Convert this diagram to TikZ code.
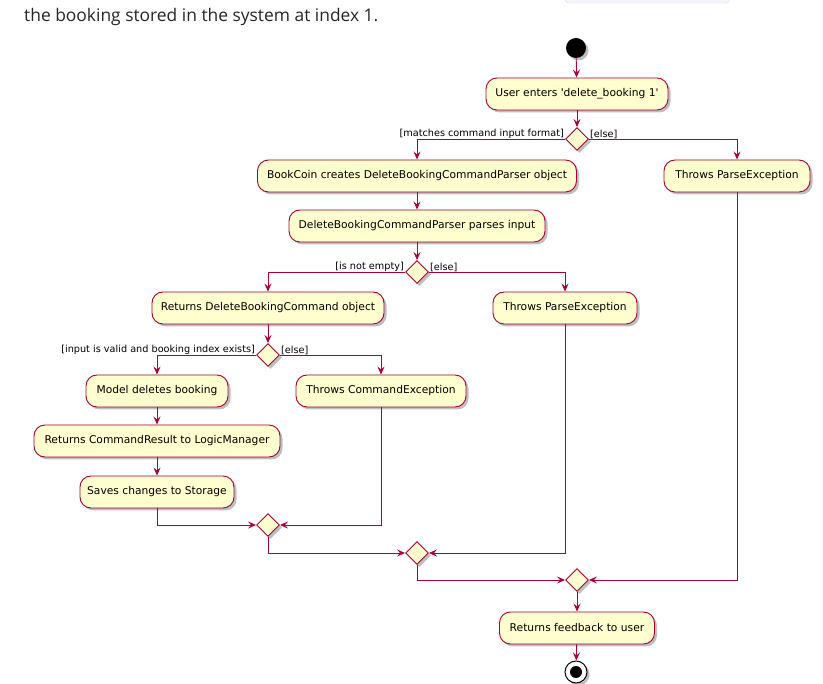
\documentclass[tikz,border=0pt]{standalone}
\usepackage{fontspec}
\setmainfont{DejaVu Sans}[Ligatures=TeXOff]
\newfontfamily\headfont{Open Sans}
\usetikzlibrary{shapes.geometric,arrows.meta,shadows}
\definecolor{umlfill}{HTML}{FEFECE}
\definecolor{umlline}{HTML}{A80036}
\begin{document}
\begin{tikzpicture}[x=1pt,y=-1pt,
  act/.style={draw=umlline, fill=umlfill, line width=0.9pt, rounded corners=11pt,
    minimum height=32pt, inner sep=0pt, font=\fontsize{10.7}{12}\selectfont,
    drop shadow={shadow xshift=2.5pt, shadow yshift=-2.5pt, opacity=0.25, fill=black}},
  dec/.style={diamond, draw=umlline, fill=umlfill, line width=0.9pt, inner sep=0pt,
    minimum width=23pt, minimum height=23pt,
    drop shadow={shadow xshift=2.5pt, shadow yshift=-2.5pt, opacity=0.25, fill=black}},
  flow/.style={draw=umlline, line width=0.9pt, -{Stealth[length=8pt,width=7pt,inset=3pt]}},
  guard/.style={font=\fontsize{9.7}{11}\selectfont, inner sep=1pt}
]
\useasboundingbox (0,0) rectangle (823,684);
\fill[white] (0,0) rectangle (823,684);
% partial box at top
\draw[draw=black!15, fill=blue!4, rounded corners=4pt] (565,-10) rectangle (730,3);
\node[anchor=west, font=\headfont\fontsize{17.4}{20}\selectfont, text=black!85, inner sep=0pt] (head) at (24,17) {the booking stored in the system at index 1.};

% start
\node[circle, fill=black, minimum size=20pt, inner sep=0pt,
  drop shadow={shadow xshift=2.5pt, shadow yshift=-2.5pt, opacity=0.25, fill=black}] (start) at (576,48) {};

\node[act, minimum width=182pt] (enter) at (577,94) {User enters 'delete\_booking 1'};
\node[dec] (d1) at (577,139) {};
\node[act, minimum width=319pt] (create) at (417,176) {BookCoin creates DeleteBookingCommandParser object};
\node[act, minimum width=146pt] (pe1) at (737,176) {Throws ParseException};
\node[act, minimum width=256pt] (parse) at (417,226) {DeleteBookingCommandParser parses input};
\node[dec] (d2) at (417,272) {};
\node[act, minimum width=232pt] (ret) at (268,308) {Returns DeleteBookingCommand object};
\node[act, minimum width=144pt] (pe2) at (565,308) {Throws ParseException};
\node[dec] (d3) at (268,355) {};
\node[act, minimum width=142pt] (model) at (157,391) {Model deletes booking};
\node[act, minimum width=170pt] (cmdex) at (381,391) {Throws CommandException};
\node[act, minimum width=246pt] (result) at (157,441) {Returns CommandResult to LogicManager};
\node[act, minimum width=154pt] (save) at (157,492) {Saves changes to Storage};
\node[dec] (m1) at (268,525) {};
\node[dec] (m2) at (417,553) {};
\node[dec] (m3) at (577,580) {};
\node[act, minimum width=155pt] (fb) at (577,628) {Returns feedback to user};

% end
\node[circle, draw=black, line width=1pt, fill=white, minimum size=22pt, inner sep=0pt,
  drop shadow={shadow xshift=2.5pt, shadow yshift=-2.5pt, opacity=0.25, fill=black}] (end) at (576,672) {};
\node[circle, fill=black, minimum size=12pt, inner sep=0pt] (endin) at (end.center) {};

% guards
\node[guard, anchor=south east] (g1l) at ([yshift=-1pt]d1.west) {[matches command input format]};
\node[guard, anchor=south west] (g1r) at ([yshift=-1pt]d1.east) {[else]};
\node[guard, anchor=south east] (g2l) at ([yshift=-1pt]d2.west) {[is not empty]};
\node[guard, anchor=south west] (g2r) at ([yshift=-1pt]d2.east) {[else]};
\node[guard, anchor=south east] (g3l) at ([yshift=-1pt]d3.west) {[input is valid and booking index exists]};
\node[guard, anchor=south west] (g3r) at ([yshift=-1pt]d3.east) {[else]};

% flows
\draw[flow] (start) -- (enter);
\draw[flow] (enter) -- (d1);
\draw[flow] (d1.west) -| (create.north);
\draw[flow] (d1.east) -| (pe1.north);
\draw[flow] (create) -- (parse);
\draw[flow] (parse) -- (d2);
\draw[flow] (d2.west) -| (ret.north);
\draw[flow] (d2.east) -| (pe2.north);
\draw[flow] (ret) -- (d3);
\draw[flow] (d3.west) -| (model.north);
\draw[flow] (d3.east) -| (cmdex.north);
\draw[flow] (model) -- (result);
\draw[flow] (result) -- (save);
\draw[flow] (save.south) |- (m1.west);
\draw[flow] (cmdex.south) |- (m1.east);
\draw[flow] (m1.south) |- (m2.west);
\draw[flow] (pe2.south) |- (m2.east);
\draw[flow] (m2.south) |- (m3.west);
\draw[flow] (pe1.south) |- (m3.east);
\draw[flow] (m3) -- (fb);
\draw[flow] (fb) -- (end);
\end{tikzpicture}
\end{document}
